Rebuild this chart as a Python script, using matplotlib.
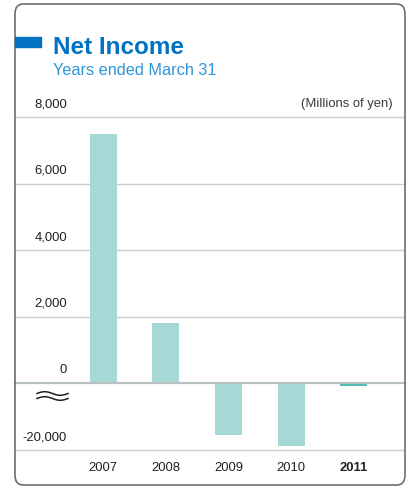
import numpy as np
from matplotlib import pyplot as plt
from matplotlib.patches import FancyBboxPatch, Rectangle
from matplotlib.transforms import blended_transform_factory, offset_copy

plt.rcParams['font.family'] = ['Liberation Sans', 'DejaVu Sans']

# net income, millions of yen
years = ['2007', '2008', '2009', '2010', '2011']
net_income = [7500, 1800, -15500, -18800, -700]
bar_colors = ['#a6d9d5', '#a6d9d5', '#a6d9d5', '#a6d9d5', '#4fbdb6']
ytick_values = [8000, 6000, 4000, 2000, 0, -20000]
ytick_labels = ['8,000', '6,000', '4,000', '2,000', '0', '-20,000']

W, H = 409, 487
fig = plt.figure(figsize=(W / 100, H / 100), dpi=100)
ax = fig.add_axes([15 / W, 1 - 450 / H, 390 / W, 333 / H])

# negative side of the axis is squeezed 10x (broken axis)
def fwd(v):
    v = np.asarray(v, dtype=float)
    return np.where(v >= 0, v, v / 10)

def inv(v):
    v = np.asarray(v, dtype=float)
    return np.where(v >= 0, v, v * 10)

ax.set_yscale('function', functions=(fwd, inv))
ax.set_ylim(-20000, 8000)
x = np.arange(len(years))
ax.set_xlim(-1.41, 4.82)

ax.bar(x, net_income, width=0.43, color=bar_colors, zorder=2)

for v in ytick_values:
    if v == 0:
        ax.axhline(v, color='#b9c0c3', lw=1.6, zorder=3, clip_on=False)
    else:
        ax.axhline(v, color='#c6ccd0', lw=1.0, zorder=1, clip_on=False)

trans = blended_transform_factory(ax.transAxes, ax.transData)
lab_trans = offset_copy(trans, fig=fig, x=0, y=5, units='points')
for v, s in zip(ytick_values, ytick_labels):
    ax.text(0.133, v, s, transform=lab_trans, ha='right', va='bottom',
            fontsize=9.4, color='#231f20')
ax.text(0.969, 8000, '(Millions of yen)', transform=lab_trans, ha='right',
        va='bottom', fontsize=9.4, color='#3a3a3a')

for i, yr in enumerate(years):
    ax.text(i, -0.055, yr, transform=blended_transform_factory(ax.transData, ax.transAxes),
            ha='center', va='center', fontsize=9.4, color='#231f20',
            fontweight='bold' if yr == '2011' else 'normal')

ax.set_xticks([])
ax.set_yticks([])
ax.minorticks_off()
for sp in ax.spines.values():
    sp.set_visible(False)
ax.patch.set_alpha(0)

# break mark under the zero line
t = np.linspace(0, 1, 60)
for yc in (393.5, 398.5):
    fig.add_artist(plt.Line2D((37 + 31 * t) / W, 1 - (yc - 1.8 * np.sin(2 * np.pi * t)) / H,
                              color='#231f20', lw=1.1))

# rounded frame
fig.add_artist(FancyBboxPatch((15 / W, 1 - 485 / H), 390 / W, 481 / H,
                              boxstyle='round,pad=0,rounding_size=0.02',
                              fill=False, ec='#6e6e6e', lw=1.2,
                              transform=fig.transFigure))

# title block
fig.add_artist(Rectangle((15 / W, 1 - 47 / H), 26 / W, 10 / H, color='#0072c1',
                         transform=fig.transFigure))
fig.text(53 / W, 1 - 53.5 / H, 'Net Income', fontsize=17.5, fontweight='bold',
         color='#0072c1', ha='left', va='baseline')
fig.text(53 / W, 1 - 75 / H, 'Years ended March 31', fontsize=11.7,
         color='#2f95d8', ha='left', va='baseline')

fig.savefig('out.png', dpi=100)
